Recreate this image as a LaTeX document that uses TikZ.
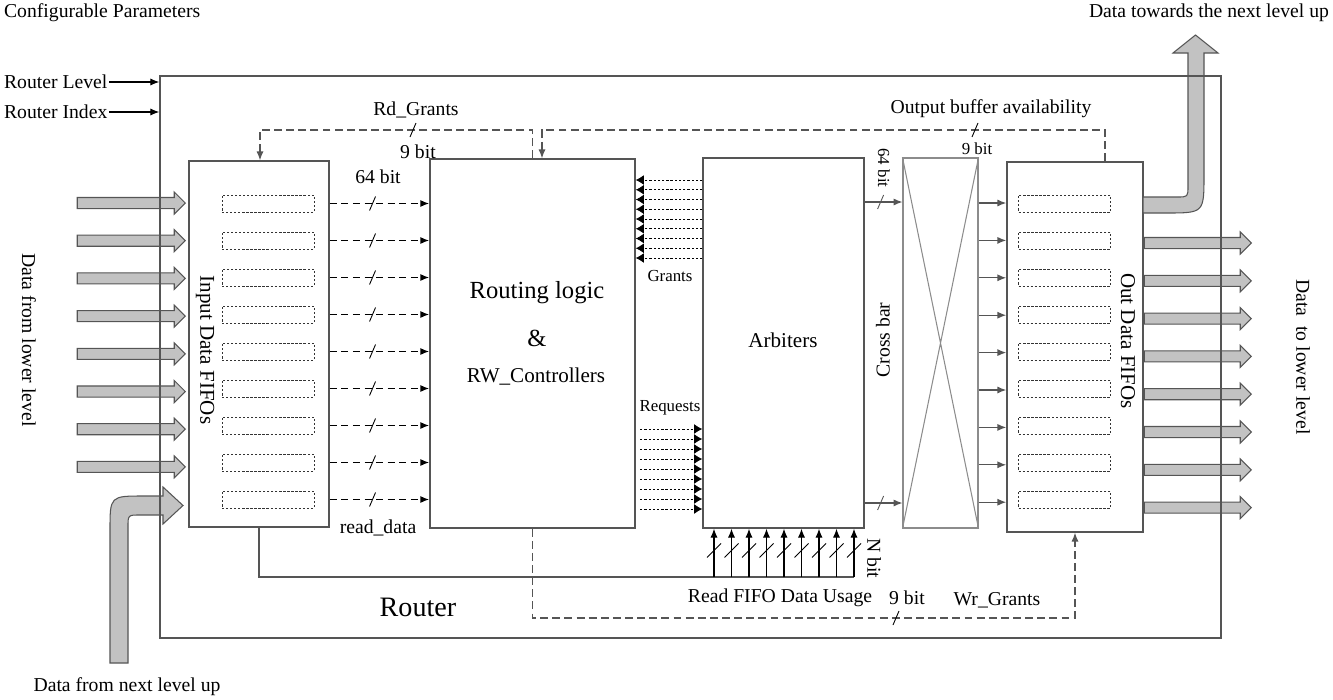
\documentclass[tikz,border=0pt]{standalone}
\usepackage{fontspec}
\setmainfont{Liberation Serif}
\usetikzlibrary{arrows.meta,fit,shapes.arrows}

\definecolor{edgegray}{HTML}{555555}
\definecolor{bargray}{HTML}{C2C2C2}
\definecolor{xgray}{HTML}{8C8C8C}

\tikzset{
  box/.style={draw=edgegray, line width=0.85pt, inner sep=0pt},
  slot/.style={draw=black!80, dash pattern=on 1.3pt off 1pt, line width=0.5pt, minimum width=1.84cm, minimum height=0.34cm, inner sep=0pt},
  lbl/.style={font=\fontsize{11.2}{13}\selectfont, inner sep=1pt},
  small/.style={font=\fontsize{9.6}{11}\selectfont, inner sep=1pt},
  bar/.style={single arrow, draw=edgegray, fill=bargray, line width=0.6pt, inner sep=0pt, inner ysep=0.1cm, text height=0pt, text depth=0pt, single arrow head extend=0.11cm, minimum width=0.42cm},
  bent/.style={draw=edgegray, fill=bargray, line width=0.6pt},
  tip/.style={-{Latex[length=5pt,width=4pt]}},
  din/.style={tip, dash pattern=on 4pt off 2.6pt, line width=0.9pt},
  ctl/.style={tip, draw=edgegray, dash pattern=on 4.5pt off 2.4pt, line width=0.65pt},
  req/.style={-{Latex[length=4.6pt,width=5.6pt]}, dash pattern=on 1.3pt off 1.1pt, line width=0.5pt},
  wire/.style={draw=edgegray, line width=0.7pt},
  bus/.pic={\draw[line width=0.5pt] (-3,7) -- (3,-7);},
  ubus/.pic={\draw[line width=0.5pt] (-7,7) -- (7,-7);}
}

\begin{document}
\begin{tikzpicture}[x=0.02cm, y=-0.02cm]
\useasboundingbox (0,0) rectangle (1333,700);

% data in from the lower level
\foreach \i in {0,...,7} {
  \coordinate (b\i) at (186,{203+37.7*\i});
  \node[bar, anchor=tip, minimum height=2.16cm] (inbar\i) at (b\i) {};
}
% data in from the next level up
\draw[bent] (110,663) -- (110,530) .. controls (110,496) .. (144,496) -- (163,496) -- (163,487)
  -- (183,505.5) -- (163,524) -- (163,515) -- (140,515) .. controls (128,515) .. (128,527)
  -- (128,663) -- cycle;

% fifos and blocks
\node[box, fit={(189,161) (329,527)}] (inf) {};
\node[box, fit={(430,159) (635,528)}] (rl) {};
\node[box, fit={(703,158) (864,528)}] (arb) {};
\node[box, draw=xgray, line width=0.6pt, fit={(903,158) (978,528)}] (cb) {};
\node[box, fit={(1007,162) (1143,532)}] (ouf) {};
\draw[xgray, line width=0.6pt] (cb.north west) -- (cb.south east) (cb.north east) -- (cb.south west);

\foreach \i in {0,...,8} {
  \node[slot] (is\i) at (268,{203.5+37*\i}) {};
  \node[slot] (os\i) at (1064.5,{203.5+37*\i}) {};
}

% data out
\foreach \i in {0,...,7} {
  \coordinate (c\i) at (0,{243+37.8*\i});
  \node[bar, anchor=tail, minimum height=2.14cm] (outbar\i) at (ouf.east |- c\i) {};
}
\draw[bent] (1143,197) -- (1177,197) .. controls (1188,197) .. (1188,186) -- (1188,53) -- (1173,53)
  -- (1195.5,35) -- (1218,53) -- (1204,53) -- (1204,175) .. controls (1204,213) .. (1166,213)
  -- (1143,213) -- cycle;

% router outline on top
\node[box, fit={(160,76) (1221,638)}] (router) {};

% parameters
\node[lbl, anchor=west] (cfgtxt) at (2,13) {Configurable Parameters};
\node[lbl, anchor=west] (lvltxt) at (2,82) {Router Level};
\node[lbl, anchor=west] (idxtxt) at (2,112) {Router Index};
\draw[tip, line width=0.6pt] (lvltxt.east) -- (router.west |- lvltxt.east);
\draw[tip, line width=0.6pt] (idxtxt.east) -- (router.west |- idxtxt.east);

% labels of the blocks
\node[lbl, rotate=-90, font=\fontsize{12}{14}\selectfont] (inftxt) at (205,350) {Input Data FIFOs};
\node[font=\fontsize{14}{16}\selectfont] (rltxt) at (537,293) {Routing logic};
\node[font=\fontsize{14}{16}\selectfont] (amptxt) at (537,338) {\&};
\node[font=\fontsize{12}{14}\selectfont] (rwtxt) at (536,377) {RW\_Controllers};
\node[font=\fontsize{12}{14}\selectfont] (arbtxt) at (783,340) {Arbiters};
\node[lbl, rotate=90] (cbtxt) at (883,340) {Cross bar};
\node[lbl, rotate=-90, font=\fontsize{12}{14}\selectfont] (ouftxt) at (1128,341) {Out Data FIFOs};
\node[lbl, font=\fontsize{16}{18}\selectfont] (routertxt) at (418,607) {Router};

% read data
\foreach \i in {0,...,8} {
  \draw[din] (inf.east |- is\i) -- coordinate[pos=0.43] (dc\i) (rl.west |- is\i);
  \pic at (dc\i) {bus};
}
\node[lbl] (w64txt) at (378,177) {64 bit};
\node[lbl] (rdtxt) at (378,528) {read\_data};

% grants and requests
\foreach \i in {0,...,8} {
  \coordinate (g\i) at (0,{180+9.75*\i});
  \coordinate (q\i) at (0,{429+10*\i});
  \draw[req] (arb.west |- g\i) -- (rl.east |- g\i);
  \draw[req, shorten <=2.5pt] (rl.east |- q\i) -- (arb.west |- q\i);
}
\node[small] (granttxt) at (670,276) {Grants};
\node[small] (reqtxt) at (670,408) {Requests};

% rd grants
\coordinate (rdtop) at (260,130);
\draw[ctl] (rl.north) |- (rdtop) -- (inf.north -| rdtop);
\pic at (413,130) {bus};
\node[lbl] (rdgtxt) at (416,110) {Rd\_Grants};
\node[lbl] (rd9txt) at (418,152) {9 bit};

% output buffer availability
\coordinate (obtop) at (1105,130);
\coordinate (obin) at (542,130);
\draw[ctl] (ouf.north -| obtop) -- (obtop) -- (obin) -- (obin |- rl.north);
\pic at (975,130) {bus};
\node[lbl] (obtxt) at (991,109) {Output buffer availability};
\node[small] (ob9txt) at (977,149) {9 bit};

% read fifo data usage
\coordinate (usend) at (854,577);
\draw[wire] (inf.south) |- (usend);
\foreach \i in {0,...,8} {
  \coordinate (u\i) at ({714+17.5*\i},577);
  \draw[tip, line width=0.6pt] (u\i) -- coordinate[pos=0.55] (uc\i) (u\i |- arb.south);
  \pic at (uc\i) {ubus};
}
\node[lbl, rotate=-90] (nbtxt) at (874,558) {N bit};
\node[lbl] (usetxt) at (780,598) {Read FIFO Data Usage};

% wr grants
\coordinate (wrr) at (1075,618);
\draw[ctl] (rl.south) |- (wrr) -- (wrr |- ouf.south);
\pic at (896,618) {bus};
\node[lbl] (wr9txt) at (907,598) {9 bit};
\node[lbl] (wrtxt) at (997,600) {Wr\_Grants};

% arbiters to cross bar
\foreach \y in {202,503} {
  \coordinate (a\y) at (0,\y);
  \draw[wire, tip] (arb.east |- a\y) -- coordinate[pos=0.42] (ac\y) (cb.west |- a\y);
  \pic[edgegray] at (ac\y) {bus};
}
\node[small, rotate=-90] (cb64txt) at (884,168) {64 bit};

% cross bar to out fifos
\foreach \i in {0,...,8} {
  \coordinate (o\i) at (0,{203+37.4*\i});
  \draw[wire, tip] (cb.east |- o\i) -- (ouf.west |- o\i);
}

% outside texts
\node[lbl, rotate=-90] (dlowtxt) at (29,340) {Data from lower level};
\node[lbl] (dnexttxt) at (127,687) {Data from next level up};
\node[lbl, anchor=east] (duptxt) at (1331,13) {Data towards the next level up};
\node[lbl, rotate=-90] (dtotxt) at (1303,357) {Data\ \ to lower level};
\end{tikzpicture}
\end{document}
